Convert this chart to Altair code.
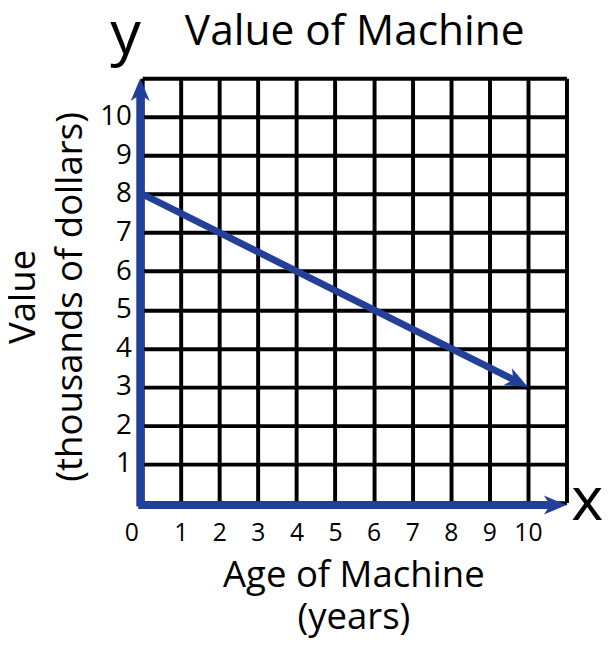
import math
import altair as alt
import pandas as pd

# ---- data ----
ages = [0, 10]            # age of machine (years)
values = [8, 3]           # value (thousands of dollars)
x_ticks = list(range(0, 12))
y_ticks = list(range(0, 12))

TITLE = "Value of Machine"
X_TITLE = ["Age of Machine", "(years)"]
Y_TITLE = ["Value", "(thousands of dollars)"]

# ---- styling ----
BLUE = "#21409A"
FONT = "Open Sans"
W, H = 430, 430
XMAX, YMAX = 11, 11
ARROW = "M0,0 L-1,-0.42 L-0.72,0 L-1,0.42 Z"
ARROW_SIZE = 2100

line_df = pd.DataFrame({"age": ages, "value": values})
tip_df = line_df.iloc[[-1]]
one = alt.Data(values=[{}])

dx = (ages[-1] - ages[0]) * W / XMAX
dy = (values[0] - values[-1]) * H / YMAX
angle = math.degrees(math.atan2(dy, dx))
length = math.hypot(dx, dy)

xscale = alt.Scale(domain=[0, XMAX], nice=False, zero=True)
yscale = alt.Scale(domain=[0, YMAX], nice=False, zero=True)

x_axis = alt.Axis(
    values=x_ticks, tickCount=12, grid=True, gridColor="black", gridWidth=4, gridOpacity=1,
    domain=False, ticks=False, tickSize=0,
    labelFont=FONT, labelFontSize=25, labelColor="black", labelPadding=18,
    labelFlush=False, labelOverlap=False,
    labelExpr="datum.value <= 10 ? datum.label : ''",
    labelOffset={"condition": {"test": "datum.value === 0", "value": -11}, "value": 0},
    title=X_TITLE, titleFont=FONT, titleFontSize=37, titleFontWeight="normal",
    titleColor="black", titleLineHeight=43, titleBaseline="alphabetic",
    titleAlign="center", titleX=214, titleY=85,
)
y_axis = alt.Axis(
    values=y_ticks, tickCount=12, grid=True, gridColor="black", gridWidth=4, gridOpacity=1,
    domain=False, ticks=False, tickSize=0,
    labelFont=FONT, labelFontSize=28, labelColor="black", labelPadding=11,
    labelFlush=False, labelOverlap=False,
    labelExpr="datum.value >= 1 && datum.value <= 10 ? datum.label : ''",
    title=Y_TITLE, titleFont=FONT, titleFontSize=37, titleFontWeight="normal",
    titleColor="black", titleLineHeight=47, titleBaseline="alphabetic",
    titleAlign="center", titleAngle=270, titleX=-109, titleY=221,
)


def X(field=None, datum=None):
    if field is not None:
        return alt.X(field, type="quantitative", scale=xscale, axis=x_axis)
    return alt.X(datum=datum, type="quantitative", scale=xscale, axis=x_axis)


def Y(field=None, datum=None):
    if field is not None:
        return alt.Y(field, type="quantitative", scale=yscale, axis=y_axis)
    return alt.Y(datum=datum, type="quantitative", scale=yscale, axis=y_axis)


line = alt.Chart(line_df).mark_line(
    color=BLUE, strokeWidth=7, strokeDash=[length - 12, 2000]
).encode(x=X("age"), y=Y("value"))

line_tip = alt.Chart(tip_df).mark_point(
    shape=ARROW, size=ARROW_SIZE, filled=True, color=BLUE, opacity=1,
    strokeWidth=0, angle=angle,
).encode(x=X("age"), y=Y("value"))

x_bar = alt.Chart(one).mark_rule(
    color=BLUE, strokeWidth=8, strokeCap="square", yOffset=2.5
).encode(x=X(datum=0), x2=alt.X2(datum=XMAX - 0.45), y=Y(datum=0))

y_bar = alt.Chart(one).mark_rule(
    color=BLUE, strokeWidth=8, strokeCap="square", xOffset=-2
).encode(y=Y(datum=0), y2=alt.Y2(datum=YMAX - 0.45), x=X(datum=0))

x_tip = alt.Chart(one).mark_point(
    shape=ARROW, size=ARROW_SIZE, filled=True, color=BLUE, opacity=1,
    strokeWidth=0, angle=0, yOffset=2.5,
).encode(x=X(datum=XMAX), y=Y(datum=0))

y_tip = alt.Chart(one).mark_point(
    shape=ARROW, size=ARROW_SIZE, filled=True, color=BLUE, opacity=1,
    strokeWidth=0, angle=270, xOffset=-2,
).encode(x=X(datum=0), y=Y(datum=YMAX))

title_text = alt.Chart(one).mark_text(
    text=TITLE, font=FONT, fontSize=43, color="black", align="center",
    baseline="alphabetic",
).encode(x=X(datum=5.51), y=Y(datum=11.87))

y_letter = alt.Chart(one).mark_text(
    text="y", font=FONT, fontSize=62, color="black", align="center",
    baseline="alphabetic",
).encode(x=X(datum=-0.43), y=Y(datum=11.64))

x_letter = alt.Chart(one).mark_text(
    text="x", font=FONT, fontSize=62, color="black", align="center",
    baseline="alphabetic",
).encode(x=X(datum=11.54), y=Y(datum=-0.46))

chart = alt.layer(
    line, x_bar, y_bar, line_tip, x_tip, y_tip, title_text, y_letter, x_letter
).properties(
    width=W, height=H,
    autosize=alt.AutoSizeParams(type="none"),
    padding={"left": 136, "top": 67, "right": 37, "bottom": 136},
    background="white",
).configure_view(stroke=None)

chart.save("out.html", embed_options={"renderer": "svg", "actions": False})
